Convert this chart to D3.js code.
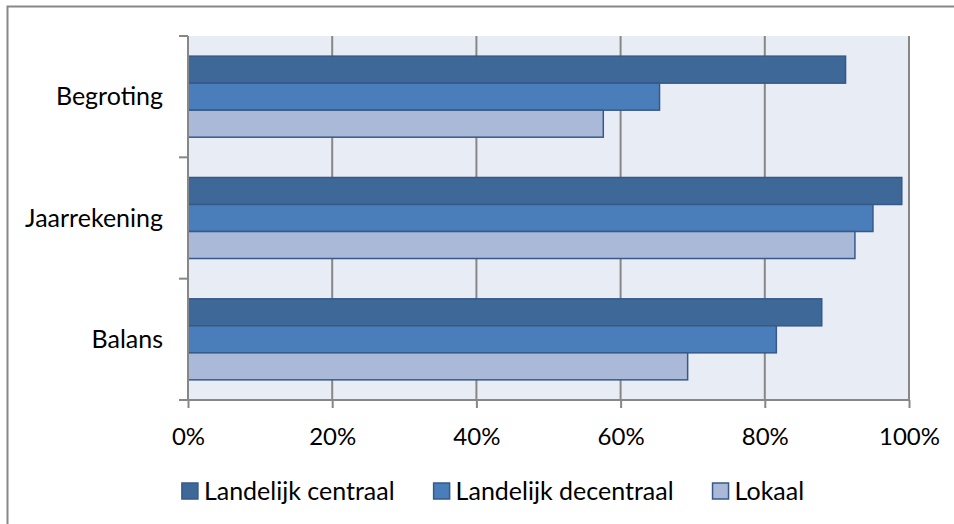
<!DOCTYPE html>
<html>
<head>
<meta charset="utf-8">
<script src="https://cdn.jsdelivr.net/npm/d3@7"></script>
<style>
  html, body { margin: 0; padding: 0; background: #fff; }
  svg { display: block; }
  text { font-family: Lato, "Open Sans", sans-serif; fill: #000; }
</style>
</head>
<body>
<svg id="chart" width="954" height="524"></svg>
<script>
// Categories (top to bottom) and series
const categories = ["Begroting", "Jaarrekening", "Balans"];
const seriesNames = ["Landelijk centraal", "Landelijk decentraal", "Lokaal"];
// Share per category, in percent, one array per series
const landelijkCentraal   = [91.2, 99.0, 87.9];
const landelijkDecentraal = [65.4, 95.0, 81.6];
const lokaal              = [57.6, 92.5, 69.3];
const tickValues = [0, 20, 40, 60, 80, 100];
const tickLabels = ["0%", "20%", "40%", "60%", "80%", "100%"];

const seriesValues = [landelijkCentraal, landelijkDecentraal, lokaal];
const colors = ["#3E6898", "#4A7EBB", "#AAB9D7"];
const strokeColor = "#37598A";
const gray = "#878787";

const svg = d3.select("#chart");

// Outer frame
svg.append("rect")
  .attr("x", 7.5).attr("y", 6.5).attr("width", 980).attr("height", 540)
  .attr("fill", "#fff").attr("stroke", gray).attr("stroke-width", 2);

const plot = { left: 188, right: 909, top: 36, bottom: 400 };

const x = d3.scaleLinear().domain([0, 100]).range([plot.left, plot.right]);
const y = d3.scaleBand().domain(categories).range([plot.top, plot.bottom]).paddingInner(0).paddingOuter(0);
const yInner = d3.scaleBand().domain(seriesNames).range([0, y.bandwidth()])
  .paddingInner(0).paddingOuter(0.746);

// Plot background
svg.append("rect")
  .attr("x", plot.left).attr("y", plot.top)
  .attr("width", plot.right - plot.left).attr("height", plot.bottom - plot.top)
  .attr("fill", "#E8EDF5");

// Vertical gridlines
svg.append("g").selectAll("line")
  .data(tickValues.slice(1))
  .join("line")
  .attr("x1", d => x(d)).attr("x2", d => x(d))
  .attr("y1", plot.top).attr("y2", plot.bottom)
  .attr("stroke", gray).attr("stroke-width", 2);

// Bars
const rows = [];
categories.forEach((c, i) => {
  seriesNames.forEach((s, j) => {
    rows.push({ category: c, series: s, value: seriesValues[j][i], color: colors[j] });
  });
});

svg.append("g").selectAll("rect")
  .data(rows)
  .join("rect")
  .attr("x", x(0))
  .attr("y", d => y(d.category) + yInner(d.series))
  .attr("width", d => x(d.value) - x(0))
  .attr("height", yInner.bandwidth())
  .attr("fill", d => d.color)
  .attr("stroke", strokeColor)
  .attr("stroke-width", 1.5);

// X axis
const xAxis = d3.axisBottom(x)
  .tickValues(tickValues)
  .tickFormat((d, i) => tickLabels[i])
  .tickSize(8)
  .tickPadding(20);
const gx = svg.append("g").attr("transform", `translate(0,${plot.bottom})`).call(xAxis);
gx.select(".domain").attr("stroke", gray).attr("stroke-width", 2)
  .attr("d", `M${plot.left},0H${plot.right}`);
gx.selectAll(".tick line").attr("stroke", gray).attr("stroke-width", 2);
gx.selectAll(".tick text")
  .attr("font-family", "Lato, sans-serif").attr("font-size", 24).attr("fill", "#000")
  .attr("dy", "0.35em").attr("y", 37);

// Y axis: ticks on category boundaries
const boundaries = categories.map(c => y(c)).concat([plot.bottom]);
const gy = svg.append("g");
gy.append("line")
  .attr("x1", plot.left).attr("x2", plot.left)
  .attr("y1", plot.top).attr("y2", plot.bottom)
  .attr("stroke", gray).attr("stroke-width", 2);
gy.selectAll("line.tk")
  .data(boundaries)
  .join("line").attr("class", "tk")
  .attr("x1", plot.left - 9).attr("x2", plot.left)
  .attr("y1", d => d).attr("y2", d => d)
  .attr("stroke", gray).attr("stroke-width", 2);
gy.selectAll("text")
  .data(categories)
  .join("text")
  .attr("x", 163)
  .attr("y", d => y(d) + y.bandwidth() / 2)
  .attr("dy", "0.35em")
  .attr("text-anchor", "end")
  .attr("font-size", 25)
  .text(d => d);

// Legend
const legend = svg.append("g");
const items = legend.selectAll("g")
  .data(seriesNames)
  .join("g");
items.append("rect")
  .attr("width", 16).attr("height", 16)
  .attr("y", -8)
  .attr("fill", (d, i) => colors[i])
  .attr("stroke", strokeColor).attr("stroke-width", 1.5);
items.append("text")
  .attr("x", 22).attr("dy", "0.35em")
  .attr("font-size", 25)
  .text(d => d);
let offset = 0;
const positions = [];
items.each(function () {
  const w = 22 + this.querySelector("text").getComputedTextLength();
  positions.push(offset);
  offset += w + 39;
});
const totalW = offset - 39;
const startX = 493 - totalW / 2;
items.attr("transform", (d, i) => `translate(${startX + positions[i]},491)`);
</script>
</body>
</html>
